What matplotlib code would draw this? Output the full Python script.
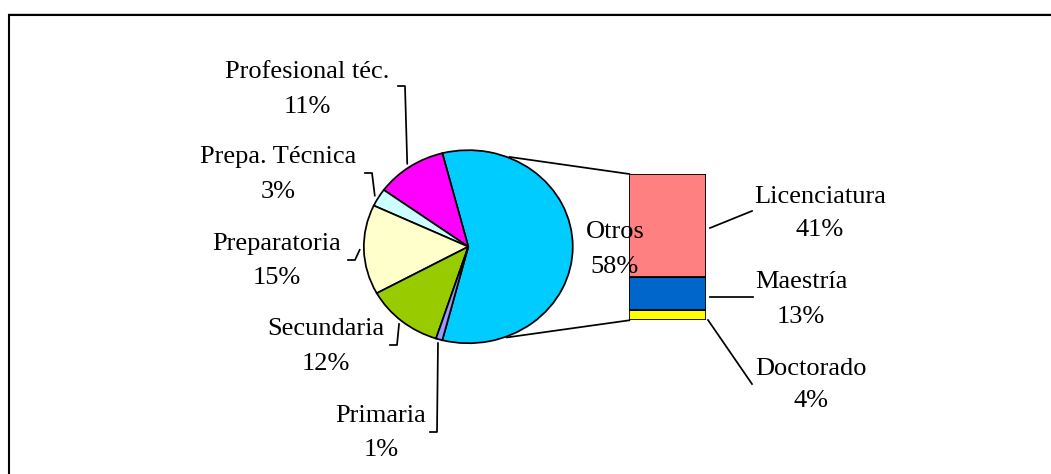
import numpy as np
import matplotlib
matplotlib.use("Agg")
import matplotlib.pyplot as plt

# ---- data ----
pie_labels = ["Otros", "Profesional téc.", "Prepa. Técnica", "Preparatoria", "Secundaria", "Primaria"]
pie_values = [58, 11, 3, 15, 12, 1]
pie_colors = ["#00CCFF", "#FF00FF", "#CCFFFF", "#FFFFCC", "#99CC00", "#9999FF"]

bar_labels = ["Licenciatura", "Maestría", "Doctorado"]
bar_values = [41, 13, 4]
bar_colors = ["#FF8080", "#0066CC", "#FFFF00"]

W, H = 1051, 474
fig = plt.figure(figsize=(W / 100, H / 100), dpi=100)
fig.patch.set_facecolor("white")

FONT = dict(family="Liberation Serif", fontsize=19, color="black")
LW = 1.25

# ---- pie (ellipse) ----
cx, cy, rx, ry = 468.3, 246.7, 105.5, 97.5
ax_pie = fig.add_axes([(cx - rx) / W, 1 - (cy + ry) / H, 2 * rx / W, 2 * ry / H])
start = -pie_values[0] / sum(pie_values) * 360 / 2
wedges, _ = ax_pie.pie(pie_values, colors=pie_colors, startangle=start, counterclock=True,
                       radius=1, wedgeprops=dict(edgecolor="black", linewidth=LW))
ax_pie.set_aspect("auto")
ax_pie.set_xlim(-1.01, 1.01)
ax_pie.set_ylim(-1.01, 1.01)
ax_pie.axis("off")

# ---- bar of "Otros" ----
bx0, bx1, by0, by1 = 629.3, 705.7, 174.0, 320.3
ax_bar = fig.add_axes([bx0 / W, 1 - by1 / H, (bx1 - bx0) / W, (by1 - by0) / H])
bottom = 0
for lab, v, c in list(zip(bar_labels, bar_values, bar_colors))[::-1]:
    ax_bar.bar(0, v, bottom=bottom, width=1.0, color=c, edgecolor="black", linewidth=LW)
    bottom += v
ax_bar.set_xlim(-0.5, 0.5)
ax_bar.set_ylim(0, sum(bar_values))
ax_bar.axis("off")

# ---- overlay in pixel coordinates ----
ov = fig.add_axes([0, 0, 1, 1], zorder=10)
ov.set_xlim(0, W)
ov.set_ylim(H, 0)
ov.axis("off")
ov.patch.set_alpha(0)

# frame
ov.plot([8.5, W + 5], [14.5, 14.5], color="black", lw=1.5, solid_capstyle="butt")
ov.plot([8.5, 8.5], [14, H + 5], color="black", lw=1.5, solid_capstyle="butt")
ov.plot([8, W + 5], [13.2, 13.2], color="#c8c8c8", lw=0.6)


def ell(theta_deg, k=1.0):
    t = np.deg2rad(theta_deg)
    return cx + k * rx * np.cos(t), cy - k * ry * np.sin(t)


# connector lines pie -> bar
p = ell(67)
ov.plot([p[0], bx0], [p[1], by0], color="black", lw=LW)
p = ell(-68.5)
ov.plot([p[0], bx0], [p[1], by1], color="black", lw=LW)

# pie labels
total = sum(pie_values)
label_pos = {  # x center, baseline line1, baseline line2
    "Profesional téc.": (307, 78, 113),
    "Prepa. Técnica": (278, 163, 198),
    "Preparatoria": (277, 250, 284),
    "Secundaria": (326, 335, 370),
    "Primaria": (381, 422, 456),
    "Otros": (615, 238, 273),
}
leader_start = {
    "Profesional téc.": (398, 86),
    "Prepa. Técnica": (365, 173),
    "Preparatoria": (348, 260),
    "Secundaria": (390, 345),
    "Primaria": (430, 432),
}
angle = start
for lab, v in zip(pie_labels, pie_values):
    span = v / total * 360
    mid = angle + span / 2
    angle += span
    x, b1, b2 = label_pos[lab]
    ov.text(x, b1, lab, ha="center", va="baseline", **FONT)
    ov.text(x, b2, f"{round(v / total * 100)}%", ha="center", va="baseline", **FONT)
    if lab in leader_start:
        sx, sy = leader_start[lab]
        ex, ey = ell(mid, 1.03)
        ov.plot([sx, sx + 7, ex], [sy, sy, ey], color="black", lw=LW)

# bar labels
bar_label_pos = {
    "Licenciatura": (820, 203, 236),
    "Maestría": (801, 288, 323),
    "Doctorado": (811, 375, 407),
}
bar_leaders = {
    "Licenciatura": ((710, 228), (752, 211)),
    "Maestría": ((710, 296.5), (753, 296.5)),
    "Doctorado": ((708, 320), (752, 384)),
}
for lab, v in zip(bar_labels, bar_values):
    x, b1, b2 = bar_label_pos[lab]
    ov.text(x, b1, lab, ha="center", va="baseline", **FONT)
    ov.text(x, b2, f"{v}%", ha="center", va="baseline", **FONT)
    (x0, y0), (x1, y1) = bar_leaders[lab]
    ov.plot([x0, x1], [y0, y1], color="black", lw=LW)

fig.savefig("out.png", dpi=100, facecolor="white")
